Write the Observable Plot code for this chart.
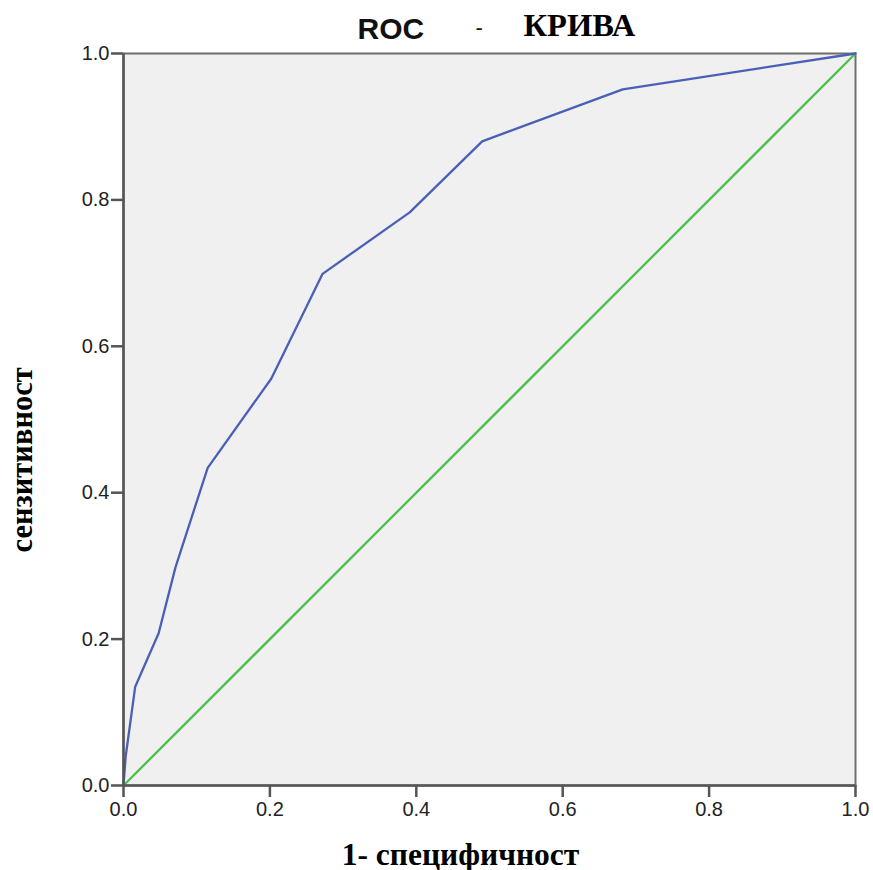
<!DOCTYPE html>
<html><head><meta charset="utf-8">
<script src="https://cdn.jsdelivr.net/npm/d3@7"></script>
<script src="https://cdn.jsdelivr.net/npm/@observablehq/plot@0.6"></script>
<style>body{margin:0;background:#fff}</style>
</head><body><div id="chart"></div>
<script>
const fpr = [0, 0.003, 0.016, 0.048, 0.071, 0.115, 0.202, 0.272, 0.391, 0.490, 0.682, 1.0];
const tpr = [0, 0.040, 0.135, 0.208, 0.298, 0.434, 0.556, 0.699, 0.783, 0.880, 0.951, 1.0];
const refX = [0, 1];
const refY = [0, 1];
const ticks = [0, 0.2, 0.4, 0.6, 0.8, 1.0];
const titleParts = ["ROC", "-", "КРИВА"];
const xLabel = "1- специфичност";
const yLabel = "сензитивност";

const roc = fpr.map((x, i) => ({x, y: tpr[i]}));
const ref = refX.map((x, i) => ({x, y: refY[i]}));
const sans = "Liberation Sans, Arial, sans-serif";
const serif = "Liberation Serif, Times New Roman, serif";

const chart = Plot.plot({
  width: 873, height: 870,
  marginLeft: 123, marginRight: 18, marginTop: 53, marginBottom: 85,
  x: {domain: [0, 1]},
  y: {domain: [0, 1]},
  style: {background: "#fff"},
  marks: [
    Plot.frame({fill: "#f0f0f0", stroke: "#6e6e6e", strokeWidth: 2}),
    Plot.line(ref, {x: "x", y: "y", stroke: "#4cc04c", strokeWidth: 2.3}),
    Plot.line(roc, {x: "x", y: "y", stroke: "#4a5fb6", strokeWidth: 2.3}),
    Plot.ruleX([0], {stroke: "#555", strokeWidth: 2.5}),
    Plot.ruleY([0], {stroke: "#555", strokeWidth: 2.5}),
    Plot.axisX(ticks, {tickFormat: d3.format(".1f"), tickSize: 12, tickPadding: 4, fontSize: 20, fontFamily: sans, stroke: "#555", strokeWidth: 2.5, color: "#222", label: null}),
    Plot.axisY(ticks, {tickFormat: d3.format(".1f"), tickSize: 12, tickPadding: 2, fontSize: 20, fontFamily: sans, stroke: "#555", strokeWidth: 2.5, color: "#222", label: null}),
    Plot.text([titleParts[0]], {frameAnchor: "top-left", text: d => d, dx: 234, dy: -15, lineAnchor: "bottom", textAnchor: "start", fontSize: 30, fontWeight: "bold", fontFamily: sans, fill: "#111"}),
    Plot.text([titleParts[1]], {frameAnchor: "top-left", text: d => d, dx: 352, dy: -19, lineAnchor: "bottom", textAnchor: "start", fontSize: 22, fontFamily: sans, fill: "#111"}),
    Plot.text([titleParts[2]], {frameAnchor: "top-left", text: d => d, dx: 400, dy: -18, lineAnchor: "bottom", textAnchor: "start", fontSize: 32.5, fontWeight: "bold", fontFamily: serif, fill: "#000"}),
    Plot.text([xLabel], {frameAnchor: "bottom", text: d => d, dx: -29, dy: 79, lineAnchor: "bottom", fontSize: 31.5, fontWeight: "bold", fontFamily: serif, fill: "#000"}),
    Plot.text([yLabel], {frameAnchor: "left", text: d => d, dx: -101, dy: 133, rotate: -90, lineAnchor: "middle", fontSize: 30.5, fontWeight: "bold", fontFamily: serif, fill: "#000"})
  ]
});
document.getElementById("chart").append(chart);
</script>
</body></html>
